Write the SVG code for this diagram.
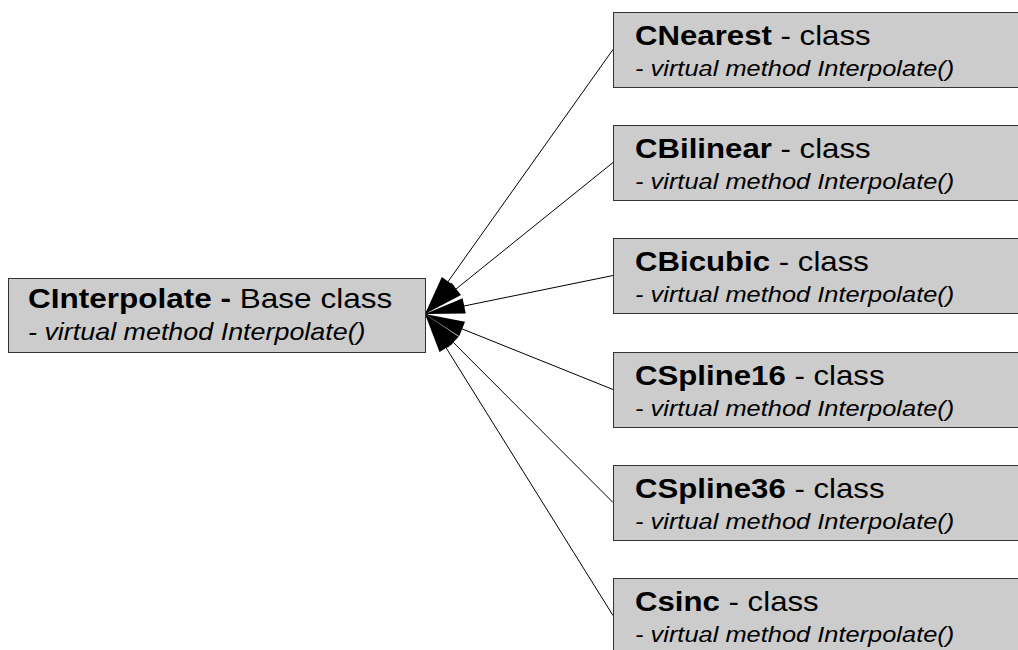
<svg xmlns="http://www.w3.org/2000/svg" width="1018" height="650" viewBox="0 0 1018 650">
<style>
.box{fill:#cccccc;stroke:#333333;stroke-width:1}
.t1{font-family:"Liberation Sans",Arial,sans-serif;font-size:27.6px;fill:#000}
.t1b{font-family:"Liberation Sans",Arial,sans-serif;font-size:27.9px;fill:#000}
.t2{font-family:"Liberation Sans",Arial,sans-serif;font-size:22.5px;font-style:italic;fill:#000}
.t2b{font-family:"Liberation Sans",Arial,sans-serif;font-size:23.8px;font-style:italic;fill:#000}
.b{font-weight:bold}
.conn line{stroke:#000;stroke-width:1;marker-end:url(#arr)}
</style>
<defs>
<marker id="arr" markerUnits="userSpaceOnUse" viewBox="-42 -10 44 20" refX="0" refY="0" markerWidth="44" markerHeight="20" orient="auto">
<path d="M0,0 L-40,-7.8 L-40,7.8 Z" fill="#000"/>
</marker>
</defs>
<rect width="1018" height="650" fill="#fff"/>
<g class="conn">
<line x1="613" y1="49.5" x2="425" y2="314"/>
<line x1="613" y1="162.5" x2="425" y2="314"/>
<line x1="613" y1="275.5" x2="425" y2="314"/>
<line x1="613" y1="389.5" x2="425" y2="314"/>
<line x1="613" y1="502.5" x2="425" y2="314"/>
<line x1="613" y1="615.5" x2="425" y2="314"/>
</g>
<g id="CInterpolate">
<rect class="box" x="8.5" y="278.5" width="417" height="74"/>
<text class="t1b" transform="translate(28,308) scale(1.13,1)"><tspan class="b">CInterpolate - </tspan>Base class</text>
<text class="t2b" transform="translate(28,340) scale(1.13,1)">- virtual method Interpolate()</text>
</g>
<g id="CNearest">
<rect class="box" x="613.5" y="12.5" width="420" height="75"/>
<text class="t1" transform="translate(635,44.5) scale(1.13,1)"><tspan class="b">CNearest</tspan> - class</text>
<text class="t2" transform="translate(635,76) scale(1.13,1)">- virtual method Interpolate()</text>
</g>
<g id="CBilinear">
<rect class="box" x="613.5" y="125.5" width="420" height="75"/>
<text class="t1" transform="translate(635,157.5) scale(1.13,1)"><tspan class="b">CBilinear</tspan> - class</text>
<text class="t2" transform="translate(635,189) scale(1.13,1)">- virtual method Interpolate()</text>
</g>
<g id="CBicubic">
<rect class="box" x="613.5" y="238.5" width="420" height="75"/>
<text class="t1" transform="translate(635,270.5) scale(1.13,1)"><tspan class="b">CBicubic</tspan> - class</text>
<text class="t2" transform="translate(635,302) scale(1.13,1)">- virtual method Interpolate()</text>
</g>
<g id="CSpline16">
<rect class="box" x="613.5" y="352.5" width="420" height="75"/>
<text class="t1" transform="translate(635,384.5) scale(1.13,1)"><tspan class="b">CSpline16</tspan> - class</text>
<text class="t2" transform="translate(635,416) scale(1.13,1)">- virtual method Interpolate()</text>
</g>
<g id="CSpline36">
<rect class="box" x="613.5" y="465.5" width="420" height="75"/>
<text class="t1" transform="translate(635,497.5) scale(1.13,1)"><tspan class="b">CSpline36</tspan> - class</text>
<text class="t2" transform="translate(635,529) scale(1.13,1)">- virtual method Interpolate()</text>
</g>
<g id="Csinc">
<rect class="box" x="613.5" y="578.5" width="420" height="75"/>
<text class="t1" transform="translate(635,610.5) scale(1.13,1)"><tspan class="b">Csinc</tspan> - class</text>
<text class="t2" transform="translate(635,642) scale(1.13,1)">- virtual method Interpolate()</text>
</g>
</svg>
